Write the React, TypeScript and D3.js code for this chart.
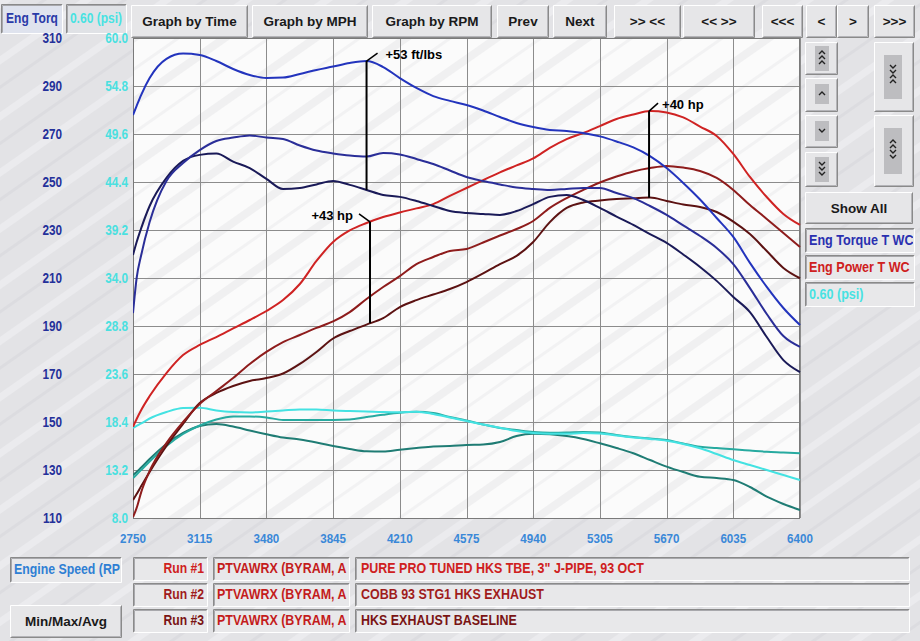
import React from 'react';
import * as d3 from 'd3';

// ---------- data ----------
const rpm = [2750, 2770, 2795, 2841, 2933, 3024, 3115, 3206, 3298, 3389, 3480, 3571, 3663, 3754, 3845, 3936, 4028, 4119, 4210, 4301, 4393, 4484, 4575, 4666, 4758, 4849, 4940, 5031, 5123, 5214, 5305, 5396, 5488, 5579, 5670, 5761, 5853, 5944, 6035, 6126, 6218, 6309, 6400];

const torqueRun1 = [277.9, 281.7, 286.3, 293.3, 301.3, 303.5, 302.9, 300.4, 297.1, 294.6, 293.3, 293.5, 295.0, 296.7, 298.1, 299.6, 300.4, 297.9, 293.3, 289.2, 285.8, 283.8, 282.1, 279.8, 277.1, 274.6, 272.9, 271.7, 271.3, 270.4, 269.0, 266.9, 264.4, 260.8, 255.8, 249.6, 242.7, 235.0, 227.1, 216.3, 206.3, 197.5, 190.4];
const torqueRun2 = [195.4, 210, 219.6, 233.3, 250.4, 257.9, 263.3, 267.1, 268.5, 269.4, 268.5, 267.9, 265.2, 263.1, 261.9, 261.0, 260.6, 262.1, 261.5, 259.6, 257.5, 254.8, 252.1, 250.4, 249.0, 247.7, 247.1, 246.7, 247.1, 247.5, 247.5, 245.4, 243.3, 240, 236.3, 231.9, 227.5, 222.5, 215.8, 205.8, 195, 185.8, 181.3];
const torqueRun3 = [219.6, 225, 230.8, 240, 251.7, 258.8, 261.3, 261.9, 258.5, 255.8, 251.3, 247.1, 247.5, 249.0, 250.4, 248.8, 246.7, 244.6, 243.8, 242.1, 240, 237.9, 237.1, 236.7, 236.3, 237.9, 240.8, 243.8, 244.6, 242.5, 239.2, 235.6, 232.1, 228.3, 224.6, 219.8, 214.6, 208.8, 202.1, 195.8, 185.4, 175.8, 170.8];

const powerRun1 = [148.0, 151.25, 155, 160.8, 170.4, 177.9, 182.1, 185.4, 189.0, 192.5, 196.25, 200.8, 207.5, 217.1, 225, 229.8, 232.9, 235.4, 237.3, 239.0, 240.8, 244.2, 247.5, 250.8, 254.0, 256.9, 259.8, 264.2, 267.9, 270.4, 273.3, 276.25, 278.1, 279.6, 279.0, 276.9, 273.1, 269.2, 261.7, 252.1, 243.75, 236.7, 232.1];
const powerRun2 = [110.4, 114.2, 120.8, 129.6, 141.25, 150, 157.5, 162.9, 168.3, 174.2, 179.2, 183.3, 186.25, 189.2, 191.9, 195.8, 201.25, 206.25, 210.8, 215.8, 218.75, 221.25, 222.1, 224.8, 227.7, 230.4, 233.75, 239.2, 243.3, 246.7, 249.8, 252.3, 254.4, 255.8, 256.7, 256.0, 254.6, 251.7, 246.7, 240.4, 234.6, 228.75, 222.9];
const powerRun3 = [117.5, 120, 123.3, 129.2, 140, 149.2, 157.9, 162.1, 165, 167.1, 168.3, 170.2, 174.2, 179.2, 184.8, 187.9, 190.6, 193.3, 197.9, 200.8, 203.1, 205.4, 208.3, 211.9, 215.8, 219.2, 225, 233.3, 239.2, 241.5, 242.3, 242.9, 243.2, 243.5, 242.1, 240.6, 239.6, 237.5, 233.5, 228.3, 221.25, 214.2, 209.9];

const boostRun1 = [17.75, 17.97, 18.24, 18.78, 19.48, 19.92, 19.95, 19.65, 19.48, 19.43, 19.54, 19.65, 19.75, 19.75, 19.65, 19.59, 19.54, 19.48, 19.46, 19.52, 19.27, 18.89, 18.51, 18.13, 17.77, 17.43, 17.21, 17.12, 17.12, 17.21, 17.15, 16.94, 16.72, 16.56, 16.37, 16.02, 15.55, 14.93, 14.28, 13.74, 13.2, 12.66, 12.12];
const boostRun2 = [12.33, 12.71, 13.2, 14.12, 15.8, 17.1, 18.02, 18.67, 19.0, 19.0, 18.89, 18.62, 18.62, 18.62, 18.62, 18.67, 18.94, 19.19, 19.4, 19.5, 19.38, 18.94, 18.56, 18.13, 17.75, 17.53, 17.32, 17.23, 17.25, 17.32, 17.25, 16.99, 16.77, 16.61, 16.45, 16.07, 15.72, 15.58, 15.44, 15.31, 15.18, 15.1, 15.01];
const boostRun3 = [12.66, 12.98, 13.47, 14.39, 16.02, 17.21, 17.97, 18.18, 17.91, 17.48, 17.08, 16.72, 16.5, 16.18, 15.8, 15.48, 15.23, 15.2, 15.4, 15.58, 15.75, 15.8, 15.91, 15.96, 16.23, 16.88, 17.12, 17.07, 16.88, 16.56, 16.09, 15.58, 15.01, 14.28, 13.56, 12.98, 12.47, 12.33, 12.12, 11.36, 10.31, 9.52, 8.87];

const torqueTicks = [110, 130, 150, 170, 190, 210, 230, 250, 270, 290, 310];
const psiTicks = ['8.0', '13.2', '18.4', '23.6', '28.8', '34.0', '39.2', '44.4', '49.6', '54.8', '60.0'];
const rpmTicks = [2750, 3115, 3480, 3845, 4210, 4575, 4940, 5305, 5670, 6035, 6400];

const topButtons = ['Graph by Time', 'Graph by MPH', 'Graph by RPM', 'Prev', 'Next', '>> <<', '<< >>', '<<<', '<', '>', '>>>'];
const runLabels = ['Run #1', 'Run #2', 'Run #3'];
const runNames = ['PTVAWRX (BYRAM, A', 'PTVAWRX (BYRAM, A', 'PTVAWRX (BYRAM, A'];
const runDescs = ['PURE PRO TUNED HKS TBE, 3" J-PIPE, 93 OCT', 'COBB 93 STG1 HKS EXHAUST', 'HKS EXHAUST BASELINE'];
const legendLabels = ['Eng Torque T WC', 'Eng Power T WC', '0.60 (psi)'];

// annotations
const annTorque = { label: '+53 ft/lbs', rpm: 4028 };
const annPowerLow = { label: '+43 hp', rpm: 4047 };
const annPowerHigh = { label: '+40 hp', rpm: 5574 };

// ---------- layout ----------
const PL = 133, PR = 800, PT = 38, PB = 518;
const BG = '#e3e3e6';
const SANS = "'Liberation Sans', Arial, sans-serif";

function valueAt(series: number[], r: number) {
  const i = d3.bisectRight(rpm, r) - 1;
  const j = Math.min(i + 1, rpm.length - 1);
  if (i === j) return series[i];
  const t = (r - rpm[i]) / (rpm[j] - rpm[i]);
  return series[i] + t * (series[j] - series[i]);
}

function NText({ x, y, anchor = 'start', size = 13.5, fill, sx = 0.84, children }: any) {
  return (
    <text transform={`translate(${x},${y}) scale(${sx},1)`} textAnchor={anchor} fontFamily={SANS}
      fontWeight="bold" fontSize={size} fill={fill}>{children}</text>
  );
}

function Raised({ x, y, w, h, fill = '#e6e6e8' }: any) {
  return (
    <g>
      <rect x={x} y={y} width={w} height={h} fill={fill} />
      <polyline points={`${x + 0.5},${y + h - 0.5} ${x + 0.5},${y + 0.5} ${x + w - 0.5},${y + 0.5}`} fill="none" stroke="#ffffff" strokeWidth={1} />
      <polyline points={`${x + w - 0.5},${y + 0.5} ${x + w - 0.5},${y + h - 0.5} ${x + 0.5},${y + h - 0.5}`} fill="none" stroke="#8a8a8a" strokeWidth={1} />
      <polyline points={`${x + w - 1.5},${y + 1.5} ${x + w - 1.5},${y + h - 1.5} ${x + 1.5},${y + h - 1.5}`} fill="none" stroke="#b4b4b8" strokeWidth={1} />
    </g>
  );
}

function Sunken({ x, y, w, h, fill = '#e8e8ea' }: any) {
  return (
    <g>
      <rect x={x} y={y} width={w} height={h} fill={fill} />
      <polyline points={`${x + 0.5},${y + h - 0.5} ${x + 0.5},${y + 0.5} ${x + w - 0.5},${y + 0.5}`} fill="none" stroke="#8a8a8a" strokeWidth={1} />
      <polyline points={`${x + 1.5},${y + h - 1.5} ${x + 1.5},${y + 1.5} ${x + w - 1.5},${y + 1.5}`} fill="none" stroke="#a8a8ac" strokeWidth={1} />
      <polyline points={`${x + w - 0.5},${y + 0.5} ${x + w - 0.5},${y + h - 0.5} ${x + 0.5},${y + h - 0.5}`} fill="none" stroke="#ffffff" strokeWidth={1} />
    </g>
  );
}

function Chevrons({ cx, y0, dirs }: { cx: number; y0: number; dirs: string[] }) {
  return (
    <g>
      {dirs.map((d, i) => {
        const y = y0 + i * 5;
        const pts = d === 'u'
          ? `${cx - 3},${y + 2} ${cx},${y - 1} ${cx + 3},${y + 2}`
          : `${cx - 3},${y - 1} ${cx},${y + 2} ${cx + 3},${y - 1}`;
        return <polyline key={i} points={pts} fill="none" stroke="#222" strokeWidth={1.4} />;
      })}
    </g>
  );
}

export default function App() {
  const x = d3.scaleLinear().domain([2750, 6400]).range([PL, PR]);
  const yT = d3.scaleLinear().domain([110, 310]).range([PB, PT]);
  const yP = d3.scaleLinear().domain([8, 60]).range([PB, PT]);

  const mkLine = (scale: d3.ScaleLinear<number, number>) =>
    d3.line<number>().x((_, i) => x(rpm[i])).y((d) => scale(d)).curve(d3.curveMonotoneX);
  const lineT = mkLine(yT);
  const lineP = mkLine(yP);

  const series = [
    { v: boostRun3, c: '#1f7c74', l: lineP },
    { v: boostRun2, c: '#27aaa0', l: lineP },
    { v: boostRun1, c: '#44e2e2', l: lineP },
    { v: powerRun3, c: '#5c1212', l: lineT },
    { v: powerRun2, c: '#8e1c1c', l: lineT },
    { v: powerRun1, c: '#cf2323', l: lineT },
    { v: torqueRun3, c: '#1a1a58', l: lineT },
    { v: torqueRun2, c: '#2a2e98', l: lineT },
    { v: torqueRun1, c: '#2334bd', l: lineT },
  ];

  const annotations = [
    { a: annTorque, top: torqueRun1, bot: torqueRun3, side: 'right', dx: 11, tx: 19 },
    { a: annPowerLow, top: powerRun1, bot: powerRun3, side: 'left', dx: -11, tx: -17 },
    { a: annPowerHigh, top: powerRun1, bot: powerRun3, side: 'right', dx: 9, tx: 13 },
  ];

  const btnX = [131, 252, 372, 497, 553, 614, 683, 762, 806, 837, 874];
  const btnW = [117, 116, 120, 52, 54, 67, 72, 41, 31, 32, 41];

  const runColors = ['#cf2020', '#a01c1c', '#7a1414'];
  const rowY = [557, 583, 609];

  return (
    <svg width={920} height={641} style={{ position: 'absolute', left: 0, top: 0 }} xmlns="http://www.w3.org/2000/svg">
      <defs>
        <pattern id="wmOuter" width="46" height="46" patternUnits="userSpaceOnUse" patternTransform="rotate(-35)">
          <rect width="46" height="46" fill={BG} />
          <rect x="0" y="0" width="46" height="7" fill="#ebebee" />
          <rect x="0" y="24" width="46" height="3" fill="#dcdce0" />
        </pattern>
        <pattern id="wmPlot" width="52" height="52" patternUnits="userSpaceOnUse" patternTransform="rotate(-35)">
          <rect width="52" height="52" fill="#fbfbfb" />
          <rect x="0" y="0" width="52" height="8" fill="#f0f0f1" />
          <rect x="0" y="28" width="52" height="3" fill="#f2f2f3" />
        </pattern>
        <clipPath id="plotclip">
          <rect x={PL} y={PT} width={PR - PL + 4} height={PB - PT} />
        </clipPath>
      </defs>
      <rect x={0} y={0} width={920} height={641} fill="url(#wmOuter)" />

      {/* top-left boxes */}
      <Sunken x={1} y={4} w={62} h={30} fill="#dfe3ee" />
      <NText x={32} y={23} anchor="middle" size={14} sx={0.86} fill="#2a3aa8">Eng Torq</NText>
      <Sunken x={66} y={4} w={61} h={30} fill="#e0e2e6" />
      <NText x={96} y={23} anchor="middle" size={14} sx={0.86} fill="#48e2e2">0.60 (psi)</NText>

      {/* top buttons */}
      {topButtons.map((b, i) => (
        <g key={b + i}>
          <Raised x={btnX[i]} y={5} w={btnW[i]} h={33} />
          <text x={btnX[i] + btnW[i] / 2} y={26} textAnchor="middle" fontFamily={SANS} fontWeight="bold" fontSize={13.5} fill="#1a1a1a">{b}</text>
        </g>
      ))}

      {/* plot area */}
      <rect x={PL} y={PT} width={PR - PL} height={PB - PT} fill="url(#wmPlot)" />
      {torqueTicks.map((t) => (
        <line key={'gy' + t} x1={PL} x2={PR} y1={yT(t) + 0.5} y2={yT(t) + 0.5} stroke="#8c8c8c" strokeWidth={1} />
      ))}
      {rpmTicks.map((t) => (
        <line key={'gx' + t} x1={Math.round(x(t)) + 0.5} x2={Math.round(x(t)) + 0.5} y1={PT} y2={PB} stroke="#8c8c8c" strokeWidth={1} />
      ))}
      <rect x={PL + 0.5} y={PT + 0.5} width={PR - PL - 1} height={PB - PT} fill="none" stroke="#7a7a7a" strokeWidth={1} />

      {/* curves */}
      <g clipPath="url(#plotclip)">
        {series.map((s, i) => (
          <path key={i} d={s.l(s.v) || ''} fill="none" stroke={s.c} strokeWidth={2} strokeLinejoin="round" />
        ))}
      </g>

      {/* annotations */}
      {annotations.map(({ a, top, bot, side, dx, tx }, i) => {
        const ax = x(a.rpm);
        const y1 = yT(valueAt(top, a.rpm));
        const y2 = yT(valueAt(bot, a.rpm));
        return (
          <g key={i}>
            <line x1={ax} x2={ax} y1={y1} y2={y2} stroke="#000" strokeWidth={2} />
            <line x1={ax} y1={y1} x2={ax + dx} y2={y1 - 8} stroke="#000" strokeWidth={1.5} />
            <text x={ax + tx} y={y1 - 2}
              textAnchor={side === 'right' ? 'start' : 'end'} fontFamily={SANS} fontWeight="bold" fontSize={13} fill="#000">{a.label}</text>
          </g>
        );
      })}

      {/* left axis labels */}
      {torqueTicks.map((t) => (
        <NText key={'tl' + t} x={62} y={yT(t) + 5} anchor="end" size={14} sx={0.84} fill="#24309a">{t}</NText>
      ))}
      {psiTicks.map((t) => (
        <NText key={'pl' + t} x={128} y={yP(+t) + 5} anchor="end" size={14} sx={0.84} fill="#4ae0e0">{t}</NText>
      ))}
      {rpmTicks.map((t) => (
        <NText key={'xl' + t} x={x(t)} y={543} anchor="middle" size={13.5} sx={0.86} fill="#3a88d8">{t}</NText>
      ))}

      {/* right panel */}
      <Raised x={805} y={42} w={33} h={33} />
      <rect x={815} y={46} width={14} height={25} fill="#bdbdc0" />
      <Chevrons cx={822} y0={52} dirs={['u', 'u', 'u']} />
      <Raised x={805} y={78} w={33} h={34} />
      <rect x={815} y={84} width={14} height={20} fill="#bdbdc0" />
      <Chevrons cx={822} y0={93} dirs={['u']} />
      <Raised x={805} y={115} w={33} h={33} />
      <rect x={815} y={121} width={14} height={20} fill="#bdbdc0" />
      <Chevrons cx={822} y0={130} dirs={['d']} />
      <Raised x={805} y={152} w={33} h={35} />
      <rect x={815} y={157} width={14} height={25} fill="#bdbdc0" />
      <Chevrons cx={822} y0={163} dirs={['d', 'd', 'd']} />

      <Raised x={874} y={42} w={40} h={70} />
      <rect x={884} y={55} width={18} height={44} fill="#bdbdc0" />
      <Chevrons cx={893} y0={66} dirs={['d', 'd', 'u', 'u']} />
      <Raised x={874} y={115} w={40} h={72} />
      <rect x={884} y={128} width={18} height={46} fill="#bdbdc0" />
      <Chevrons cx={893} y0={141} dirs={['u', 'u', 'd', 'd']} />

      <Raised x={805} y={192} w={108} h={32} />
      <text x={859} y={213} textAnchor="middle" fontFamily={SANS} fontWeight="bold" fontSize={13.5} fill="#1a1a1a">Show All</text>

      {legendLabels.map((l, i) => (
        <g key={l}>
          <Sunken x={805} y={228 + i * 27} w={110} h={25} />
          <svg x={807} y={228 + i * 27} width={106} height={25}>
            <NText x={2} y={17} size={14} sx={0.9}
              fill={i === 0 ? '#2a30b0' : i === 1 ? '#cf2020' : '#48e2e2'}>{l}</NText>
          </svg>
        </g>
      ))}

      {/* bottom panel */}
      <Sunken x={10} y={557} w={112} h={26} />
      <svg x={12} y={557} width={108} height={26}>
        <NText x={2} y={17} size={14} sx={0.88} fill="#2f7fd4">Engine Speed (RPM)</NText>
      </svg>
      <Raised x={10} y={605} w={112} h={33} />
      <text x={66} y={626} textAnchor="middle" fontFamily={SANS} fontSize={13.5} fill="#1a1a1a" fontWeight="bold">Min/Max/Avg</text>

      {runLabels.map((r, i) => (
        <g key={r}>
          <Sunken x={133} y={rowY[i]} w={75} h={24} />
          <NText x={204} y={rowY[i] + 16} anchor="end" size={14.5} sx={0.84} fill={runColors[i]}>{r}</NText>
          <Sunken x={213} y={rowY[i]} w={137} h={24} />
          <svg x={215} y={rowY[i]} width={133} height={24}>
            <NText x={2} y={16} size={14.5} sx={0.86} fill="#c41c1c">{runNames[i]}</NText>
          </svg>
          <Sunken x={355} y={rowY[i]} w={555} h={24} />
          <NText x={361} y={rowY[i] + 16} size={14.5} sx={0.86} fill={runColors[i]}>{runDescs[i]}</NText>
        </g>
      ))}
    </svg>
  );
}
